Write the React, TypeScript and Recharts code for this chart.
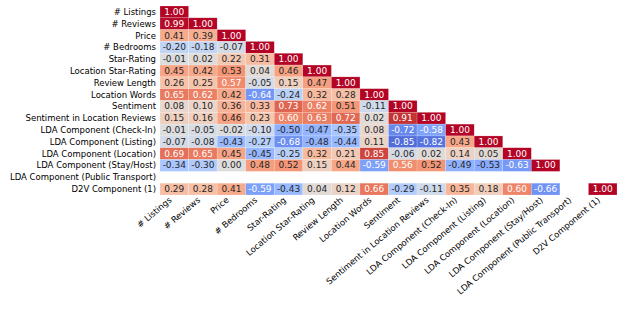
import { ScatterChart, Scatter, XAxis, YAxis } from "recharts";

const labels = [
  "# Listings",
  "# Reviews",
  "Price",
  "# Bedrooms",
  "Star-Rating",
  "Location Star-Rating",
  "Review Length",
  "Location Words",
  "Sentiment",
  "Sentiment in Location Reviews",
  "LDA Component (Check-In)",
  "LDA Component (Listing)",
  "LDA Component (Location)",
  "LDA Component (Stay/Host)",
  "LDA Component (Public Transport)",
  "D2V Component (1)",
];

// lower triangle of the correlation matrix, null = no value
const corr: (number | null)[][] = [
  [1.0],
  [0.99, 1.0],
  [0.41, 0.39, 1.0],
  [-0.2, -0.18, -0.07, 1.0],
  [-0.01, 0.02, 0.22, 0.31, 1.0],
  [0.45, 0.42, 0.53, 0.04, 0.46, 1.0],
  [0.26, 0.25, 0.57, -0.05, 0.15, 0.47, 1.0],
  [0.65, 0.62, 0.42, -0.64, -0.24, 0.32, 0.28, 1.0],
  [0.08, 0.1, 0.36, 0.33, 0.73, 0.62, 0.51, -0.11, 1.0],
  [0.15, 0.16, 0.46, 0.23, 0.6, 0.63, 0.72, 0.02, 0.91, 1.0],
  [-0.01, -0.05, -0.02, -0.1, -0.5, -0.47, -0.35, 0.08, -0.72, -0.58, 1.0],
  [-0.07, -0.08, -0.43, -0.27, -0.68, -0.48, -0.44, 0.11, -0.85, -0.82, 0.43, 1.0],
  [0.69, 0.65, 0.45, -0.45, -0.25, 0.32, 0.21, 0.85, -0.06, 0.02, 0.14, 0.05, 1.0],
  [-0.34, -0.3, 0.0, 0.48, 0.52, 0.15, 0.44, -0.59, 0.56, 0.52, -0.49, -0.53, -0.63, 1.0],
  [],
  [0.29, 0.28, 0.41, -0.59, -0.43, 0.04, 0.12, 0.66, -0.29, -0.11, 0.35, 0.18, 0.6, -0.66, null, 1.0],
];

// matplotlib coolwarm, 33 stops
const coolwarm = [
  [59, 76, 192], [68, 90, 204], [77, 104, 215], [87, 117, 225], [98, 130, 234],
  [108, 142, 241], [119, 154, 247], [130, 165, 251], [141, 176, 254], [152, 185, 255],
  [163, 194, 255], [174, 201, 253], [184, 208, 249], [194, 213, 244], [204, 217, 238],
  [213, 219, 230], [221, 221, 221], [229, 216, 209], [236, 211, 197], [241, 204, 185],
  [245, 196, 173], [247, 187, 160], [247, 177, 148], [247, 166, 135], [244, 154, 123],
  [241, 141, 111], [236, 127, 99], [229, 112, 88], [222, 96, 77], [213, 80, 66],
  [203, 62, 56], [192, 40, 47], [180, 4, 38],
];

function colorOf(v: number): number[] {
  const t = Math.min(1, Math.max(0, (v + 1) / 2)) * 32;
  const i = Math.min(31, Math.floor(t));
  const f = t - i;
  const a = coolwarm[i];
  const b = coolwarm[i + 1];
  return [0, 1, 2].map((k) => a[k] + (b[k] - a[k]) * f);
}

function luminance(rgb: number[]) {
  const lin = rgb.map((c) => {
    const s = c / 255;
    return s <= 0.03928 ? s / 12.92 : Math.pow((s + 0.055) / 1.055, 2.4);
  });
  return 0.2126 * lin[0] + 0.7152 * lin[1] + 0.0722 * lin[2];
}

const N = labels.length;
const W = 623;
const H = 309;
const margin = { top: 6, right: 6, left: 0, bottom: 0 };
const yAxisW = 160;
const xAxisH = 114;
const cellW = (W - yAxisW - margin.right) / N;
const cellH = (H - margin.top - xAxisH) / N;

const cells = corr.flatMap((row, r) =>
  row
    .map((v, c) => ({ x: c + 0.5, y: r + 0.5, v }))
    .filter((d) => d.v !== null)
);

const ticks = labels.map((_, i) => i + 0.5);
const FONT = "'DejaVu Sans', sans-serif";

const Cell = (props: any) => {
  const { cx, cy, payload } = props;
  const v = payload.v as number;
  const rgb = colorOf(v);
  const txt = luminance(rgb) > 0.408 ? "#262626" : "#ffffff";
  return (
    <g>
      <rect
        x={cx - cellW / 2}
        y={cy - cellH / 2}
        width={cellW}
        height={cellH}
        fill={`rgb(${rgb.map((c) => Math.round(c)).join(",")})`}
        stroke="rgba(255,255,255,0.35)"
        strokeWidth={0.5}
      />
      <text
        x={cx}
        y={cy}
        textAnchor="middle"
        dominantBaseline="central"
        fontSize={9}
        fontFamily={FONT}
        fill={txt}
      >
        {v.toFixed(2)}
      </text>
    </g>
  );
};

const YTick = (props: any) => {
  const { x, y, payload } = props;
  return (
    <text x={x} y={y} textAnchor="end" dominantBaseline="central" fontSize={8.5} fontFamily={FONT} fill="#000">
      {labels[Math.floor(payload.value)]}
    </text>
  );
};

const XTick = (props: any) => {
  const { x, y, payload } = props;
  const ax = x - 2;
  const ay = y + 6;
  return (
    <text
      x={ax}
      y={ay}
      textAnchor="end"
      fontSize={8.5}
      fontFamily={FONT}
      fill="#000"
      transform={`rotate(-40, ${ax}, ${ay})`}
    >
      {labels[Math.floor(payload.value)]}
    </text>
  );
};

export default function App() {
  return (
    <div style={{ position: "absolute", left: 0, top: 0, width: W, height: H, background: "#fff" }}>
      <ScatterChart width={W} height={H} margin={margin}>
        <XAxis
          type="number"
          dataKey="x"
          domain={[0, N]}
          ticks={ticks}
          interval={0}
          axisLine={false}
          tickLine={false}
          tickSize={0}
          tickMargin={0}
          height={xAxisH}
          tick={<XTick />}
        />
        <YAxis
          type="number"
          dataKey="y"
          domain={[0, N]}
          reversed
          ticks={ticks}
          interval={0}
          axisLine={false}
          tickLine={false}
          tickSize={0}
          tickMargin={4}
          width={yAxisW}
          tick={<YTick />}
        />
        <Scatter data={cells} shape={<Cell />} isAnimationActive={false} />
      </ScatterChart>
    </div>
  );
}
